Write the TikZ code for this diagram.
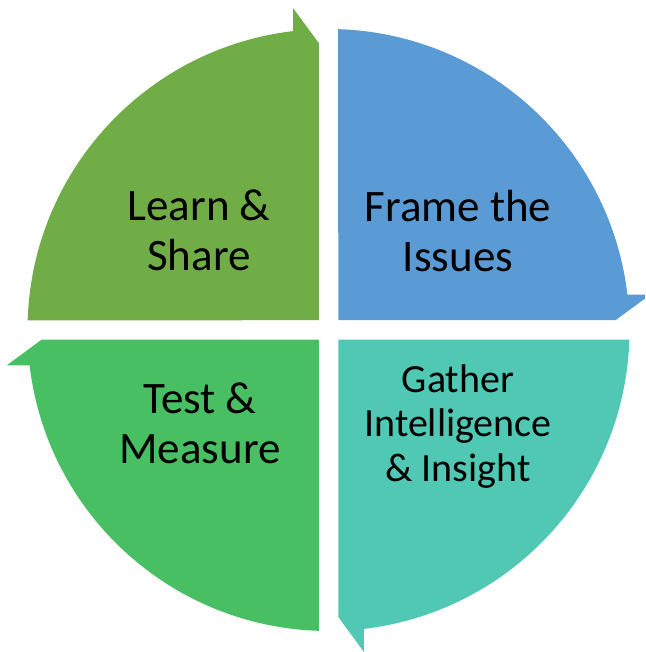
\documentclass[tikz,border=0pt]{standalone}
\usepackage{fontspec}
\setmainfont{Carlito}
\definecolor{leafgreen}{HTML}{70AD47}
\definecolor{skyblue}{HTML}{5B9BD5}
\definecolor{seateal}{HTML}{50C8B4}
\definecolor{grassgreen}{HTML}{48BF63}
\tikzset{
  % one quarter of the cycle: a pie slice ending in a half arrow head
  quarter/.pic={
    \fill[#1] (-9.75,9.75) -- (178.144:301)
      arc[start angle=178.144, end angle=96.773, radius=301]
      -- (-35.5,322) -- (-9.75,287) -- cycle;
  },
  biglabel/.style={align=center, anchor=base, inner sep=0pt, text=black,
    font=\fontsize{45}{50}\selectfont},
  smalllabel/.style={align=center, anchor=base, inner sep=0pt, text=black,
    font=\fontsize{40}{44.5}\selectfont}
}
\begin{document}
\begin{tikzpicture}[x=1pt,y=1pt]
  \clip (-328.5,-322) rectangle (316.5,330);
  \pic[rotate=0]   {quarter=leafgreen};
  \pic[rotate=-90] {quarter=skyblue};
  \pic[rotate=180] {quarter=seateal};
  \pic[rotate=90]  {quarter=grassgreen};
  % anchor=base sits on the last line of each label
  \node[biglabel]   (learn)  at (-129.5,59)   {Learn \&\\Share};
  \node[biglabel]   (frame)  at (129.5,58)    {Frame the\\Issues};
  \node[smalllabel] (gather) at (129.5,-151)  {Gather\\Intelligence\\\& Insight};
  \node[biglabel]   (test)   at (-128.5,-133) {Test \&\\Measure};
\end{tikzpicture}
\end{document}
